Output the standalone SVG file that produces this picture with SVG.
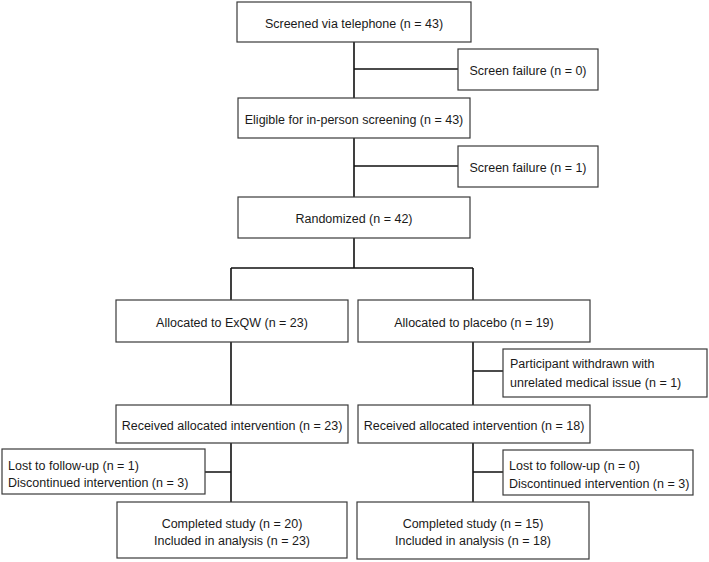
<svg xmlns="http://www.w3.org/2000/svg" width="709" height="562" viewBox="0 0 709 562">
<style>
.box{fill:#fff;stroke:#3a3a3a;stroke-width:1.2}
.t{font-family:"Liberation Sans",Arial,sans-serif;font-size:12.5px;fill:#1a1a1a}
.c{text-anchor:middle}
.ln{fill:none;stroke:#111;stroke-width:1.6}
</style>
<rect width="709" height="562" fill="#fff"/>
<g id="connectors">
<path class="ln" d="M354 42V98M354 69H458M354 138V197M354 166H458M354 238V268M231 268H473M231 268V300M473 268V300M231 342V405M473 342V405M473 371H503M231 443V502M231 472H205M473 443V502M473 472H503"/>
</g>
<g id="screened"><rect class="box" x="237" y="2" width="234" height="40"/><text class="t c" x="354" y="27.5">Screened via telephone (n = 43)</text></g>
<g id="fail0"><rect class="box" x="458" y="49" width="140" height="41"/><text class="t c" x="528" y="75">Screen failure (n = 0)</text></g>
<g id="eligible"><rect class="box" x="238" y="98" width="232" height="40"/><text class="t c" x="354" y="123.5">Eligible for in-person screening (n = 43)</text></g>
<g id="fail1"><rect class="box" x="458" y="146" width="140" height="41"/><text class="t c" x="528" y="172">Screen failure (n = 1)</text></g>
<g id="randomized"><rect class="box" x="238" y="197" width="232" height="41"/><text class="t c" x="354" y="223">Randomized (n = 42)</text></g>
<g id="alloc-exqw"><rect class="box" x="116" y="300" width="232" height="42"/><text class="t c" x="232" y="326.5">Allocated to ExQW (n = 23)</text></g>
<g id="alloc-placebo"><rect class="box" x="358" y="300" width="232" height="42"/><text class="t c" x="474" y="326.5">Allocated to placebo (n = 19)</text></g>
<g id="withdrawn"><rect class="box" x="503" y="349" width="204" height="48"/><text class="t" x="510" y="368">Participant withdrawn with</text><text class="t" x="510" y="386.5">unrelated medical issue (n = 1)</text></g>
<g id="recv-exqw"><rect class="box" x="116" y="405" width="232" height="38"/><text class="t c" x="232" y="429.5">Received allocated intervention (n = 23)</text></g>
<g id="recv-placebo"><rect class="box" x="358" y="405" width="232" height="38"/><text class="t c" x="474" y="429.5">Received allocated intervention (n = 18)</text></g>
<g id="lost-exqw"><rect class="box" x="2" y="449" width="203" height="45"/><text class="t" x="8" y="469.5">Lost to follow-up (n = 1)</text><text class="t" x="8" y="487">Discontinued intervention (n = 3)</text></g>
<g id="lost-placebo"><rect class="box" x="503" y="450" width="190" height="45"/><text class="t" x="509" y="470">Lost to follow-up (n = 0)</text><text class="t" x="509" y="487.5">Discontinued intervention (n = 3)</text></g>
<g id="done-exqw"><rect class="box" x="117" y="502" width="230" height="56"/><text class="t c" x="232" y="528">Completed study (n = 20)</text><text class="t c" x="232" y="545">Included in analysis (n = 23)</text></g>
<g id="done-placebo"><rect class="box" x="357" y="502" width="232" height="57"/><text class="t c" x="473" y="528">Completed study (n = 15)</text><text class="t c" x="473" y="545">Included in analysis (n = 18)</text></g>
</svg>
